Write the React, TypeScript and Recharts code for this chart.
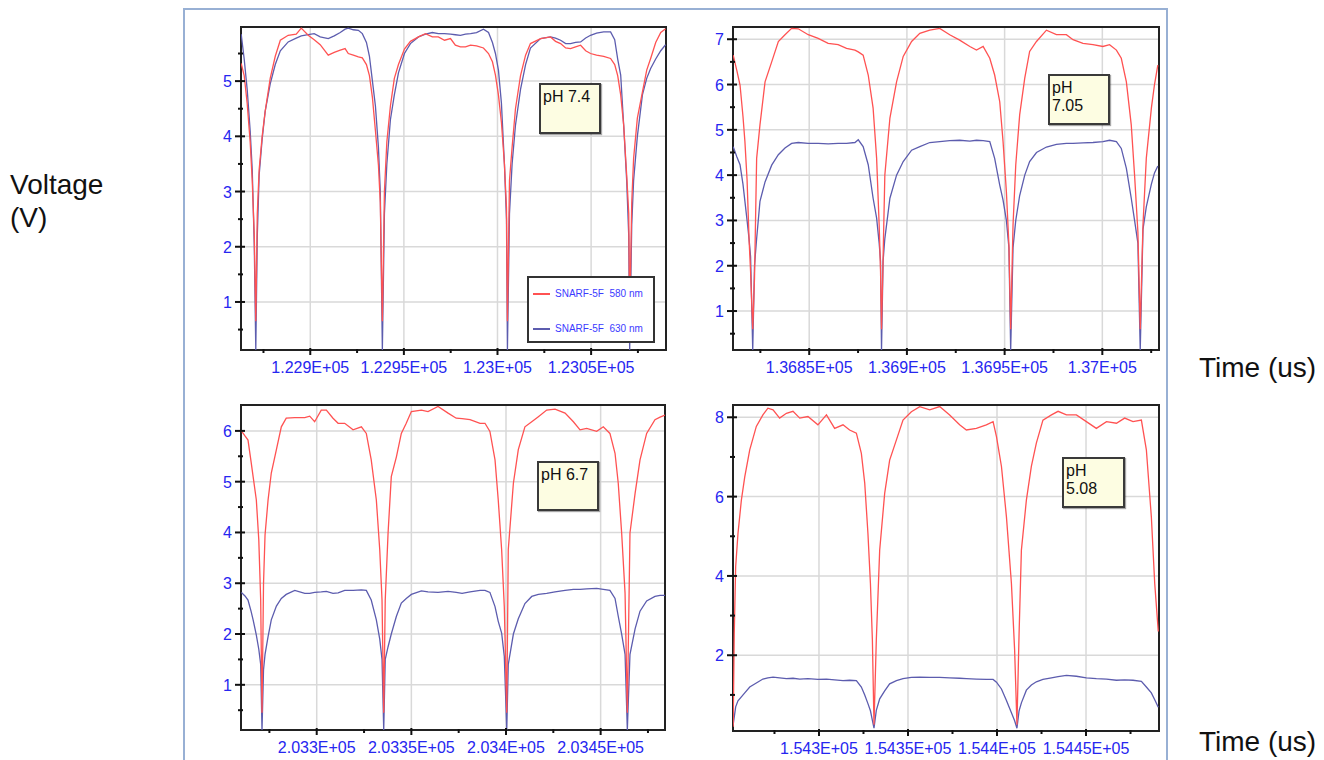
import { CartesianGrid, Legend, Line, LineChart, ReferenceArea, XAxis, YAxis } from "recharts";

const FONT = '"Liberation Sans", Arial, sans-serif';
const RED = "#ff5252";
const BLUE = "#5c5cae";
const TICK_BLUE = "#2626f0";

const seriesNames = ["SNARF-5F 580 nm", "SNARF-5F 630 nm"];

// pH 7.4
const p1Time = [122863.1, 122864.7, 122866.3, 122867.9, 122869.0, 122870.1, 122870.9, 122871.7, 122872.7, 122874.3, 122875.9, 122878.6, 122881.3, 122884.0, 122888.2, 122892.5, 122895.2, 122898.9, 122902.1, 122905.3, 122909.6, 122912.8, 122916.0, 122918.6, 122920.3, 122923.0, 122925.7, 122927.8, 122930.0, 122931.6, 122933.2, 122934.8, 122936.4, 122937.4, 122938.5, 122939.6, 122940.9, 122942.8, 122944.9, 122947.1, 122950.3, 122953.5, 122957.8, 122961.5, 122965.2, 122968.4, 122971.7, 122974.9, 122977.5, 122980.2, 122982.9, 122985.6, 122988.8, 122992.5, 122995.2, 122997.3, 122998.9, 123000.5, 123002.1, 123003.7, 123004.8, 123005.3, 123006.4, 123007.8, 123009.6, 123012.3, 123015.0, 123017.6, 123023.0, 123028.3, 123031.0, 123033.7, 123036.4, 123039.0, 123041.7, 123044.4, 123047.1, 123049.7, 123052.9, 123056.7, 123060.4, 123062.6, 123064.2, 123065.8, 123067.4, 123069.0, 123070.1, 123070.6, 123071.7, 123072.7, 123074.7, 123077.4, 123079.7, 123081.8, 123084.5, 123087.2, 123089.8];
const p1Red = [5.32, 5.1, 4.6, 3.9, 3.2, 2.2, 0.65, 2.6, 3.4, 4.0, 4.45, 5.05, 5.45, 5.74, 5.83, 5.85, 5.96, 5.83, 5.75, 5.66, 5.47, 5.52, 5.56, 5.59, 5.5, 5.47, 5.44, 5.42, 5.3, 5.1, 4.7, 4.1, 3.48, 2.8, 0.65, 3.0, 3.9, 4.55, 5.05, 5.3, 5.58, 5.72, 5.8, 5.86, 5.8, 5.8, 5.74, 5.77, 5.65, 5.62, 5.62, 5.65, 5.64, 5.6, 5.5, 5.35, 5.11, 4.75, 4.25, 3.5, 2.7, 0.65, 3.2, 3.8, 4.5, 5.1, 5.47, 5.68, 5.77, 5.8, 5.72, 5.68, 5.6, 5.59, 5.62, 5.65, 5.55, 5.5, 5.47, 5.45, 5.41, 5.3, 5.1, 4.75, 4.2, 3.3, 2.6, 0.65, 2.8, 3.6, 4.33, 4.8, 5.2, 5.41, 5.7, 5.88, 5.95];
const p1Blue = [5.85, 5.4, 4.85, 4.1, 3.4, 2.0, 0.13, 2.2, 3.3, 3.95, 4.45, 4.95, 5.3, 5.55, 5.71, 5.78, 5.82, 5.84, 5.86, 5.8, 5.77, 5.82, 5.88, 5.94, 5.96, 5.93, 5.92, 5.86, 5.7, 5.45, 5.0, 4.55, 3.8, 3.0, 0.13, 2.6, 3.5, 4.3, 4.75, 5.15, 5.5, 5.68, 5.8, 5.85, 5.88, 5.86, 5.86, 5.85, 5.84, 5.83, 5.85, 5.86, 5.88, 5.94, 5.88, 5.7, 5.5, 5.2, 4.6, 3.5, 2.5, 0.13, 2.6, 3.5, 4.2, 4.85, 5.3, 5.6, 5.77, 5.8, 5.78, 5.74, 5.68, 5.68, 5.7, 5.71, 5.78, 5.83, 5.87, 5.89, 5.89, 5.75, 5.4, 5.11, 4.2, 3.2, 2.2, 0.13, 2.4, 3.2, 4.0, 4.75, 5.05, 5.23, 5.4, 5.55, 5.66];

// pH 7.05
const p2Time = [136811.1, 136813.0, 136814.6, 136816.1, 136817.1, 136818.2, 136819.2, 136820.0, 136821.1, 136822.0, 136823.1, 136824.8, 136827.4, 136830.8, 136834.2, 136837.6, 136841.0, 136844.4, 136849.5, 136854.6, 136859.7, 136864.8, 136869.1, 136873.4, 136875.1, 136877.6, 136880.2, 136882.7, 136884.5, 136885.8, 136886.5, 136887.0, 136887.8, 136888.7, 136891.3, 136894.7, 136898.1, 136902.4, 136906.6, 136911.7, 136916.8, 136921.9, 136927.0, 136932.2, 136935.6, 136939.0, 136942.4, 136944.9, 136947.5, 136949.2, 136950.9, 136952.2, 136953.1, 136954.3, 136955.7, 136957.7, 136960.3, 136962.8, 136966.3, 136971.4, 136976.5, 136981.6, 136985.0, 136990.1, 136995.2, 137000.3, 137003.7, 137007.2, 137009.7, 137012.3, 137014.8, 137016.5, 137018.2, 137019.4, 137020.8, 137022.5, 137025.1, 137026.7, 137028.4];
const p2Red = [6.65, 6.3, 5.99, 5.3, 4.74, 3.9, 2.6, 1.87, 0.6, 1.72, 4.37, 5.11, 6.06, 6.5, 6.95, 7.1, 7.24, 7.23, 7.1, 7.02, 6.91, 6.88, 6.8, 6.76, 6.72, 6.65, 6.21, 5.48, 4.37, 2.9, 1.87, 0.6, 2.16, 4.0, 5.26, 6.06, 6.62, 6.95, 7.13, 7.2, 7.24, 7.1, 6.98, 6.84, 6.76, 6.84, 6.58, 6.21, 5.62, 4.74, 3.64, 2.46, 0.6, 2.9, 4.23, 5.33, 6.14, 6.73, 6.95, 7.2, 7.1, 7.1, 6.99, 6.91, 6.88, 6.84, 6.88, 6.76, 6.58, 6.06, 5.11, 4.0, 2.75, 0.6, 2.9, 4.37, 5.48, 6.0, 6.43];
const p2Blue = [4.63, 4.4, 4.23, 3.8, 3.42, 3.0, 2.6, 2.2, 0.14, 2.0, 2.6, 3.42, 3.85, 4.22, 4.45, 4.6, 4.7, 4.72, 4.7, 4.7, 4.69, 4.7, 4.7, 4.72, 4.78, 4.63, 4.23, 3.49, 3.05, 2.5, 2.1, 0.14, 2.1, 2.6, 3.49, 4.0, 4.3, 4.55, 4.63, 4.72, 4.74, 4.76, 4.77, 4.75, 4.77, 4.76, 4.74, 4.37, 3.78, 3.45, 3.0, 2.4, 0.14, 2.4, 3.0, 3.55, 4.0, 4.3, 4.5, 4.62, 4.68, 4.7, 4.7, 4.71, 4.72, 4.74, 4.77, 4.74, 4.59, 4.15, 3.49, 3.0, 2.5, 0.14, 2.8, 3.3, 3.8, 4.05, 4.2];

// pH 6.7
const p3Time = [203260.2, 203262.1, 203263.7, 203265.3, 203266.4, 203268.1, 203269.4, 203270.4, 203271.1, 203271.9, 203272.7, 203274.3, 203276.0, 203278.7, 203281.3, 203283.9, 203288.4, 203293.7, 203296.3, 203298.9, 203302.4, 203305.1, 203308.6, 203311.3, 203314.8, 203319.2, 203323.6, 203326.2, 203328.8, 203331.5, 203333.3, 203334.5, 203335.4, 203336.2, 203337.7, 203339.4, 203342.1, 203344.7, 203347.3, 203350.0, 203355.3, 203358.8, 203364.1, 203369.4, 203373.7, 203376.8, 203381.0, 203386.3, 203388.9, 203391.5, 203394.2, 203395.9, 203397.7, 203399.1, 203400.4, 203401.2, 203403.9, 203406.5, 203410.0, 203413.6, 203417.1, 203421.5, 203425.9, 203431.2, 203435.6, 203439.1, 203442.6, 203447.9, 203451.4, 203454.9, 203457.6, 203459.3, 203461.1, 203462.9, 203464.1, 203465.5, 203468.2, 203470.8, 203474.3, 203478.7, 203481.4, 203484.0];
const p3Red = [6.0, 5.9, 5.82, 5.4, 5.1, 4.64, 3.85, 2.67, 0.45, 3.0, 3.95, 4.64, 5.17, 5.63, 6.08, 6.25, 6.26, 6.26, 6.29, 6.18, 6.41, 6.41, 6.25, 6.15, 6.15, 6.02, 6.08, 5.95, 5.43, 4.64, 3.66, 2.67, 0.45, 2.67, 3.99, 5.1, 5.49, 5.95, 6.15, 6.38, 6.41, 6.38, 6.48, 6.35, 6.25, 6.24, 6.22, 6.15, 6.15, 5.99, 5.43, 4.64, 3.66, 2.54, 0.45, 3.66, 4.97, 5.63, 6.08, 6.18, 6.28, 6.41, 6.43, 6.35, 6.18, 6.02, 6.05, 5.99, 6.08, 5.95, 5.56, 4.97, 3.99, 2.8, 0.45, 3.99, 4.77, 5.43, 5.95, 6.22, 6.27, 6.31];
const p3Blue = [2.82, 2.75, 2.67, 2.45, 2.28, 1.98, 1.7, 1.4, 0.11, 1.3, 1.6, 1.95, 2.28, 2.55, 2.7, 2.78, 2.86, 2.8, 2.8, 2.82, 2.83, 2.84, 2.8, 2.81, 2.86, 2.86, 2.87, 2.86, 2.67, 2.28, 1.9, 1.5, 0.11, 1.5, 1.75, 2.0, 2.35, 2.61, 2.7, 2.78, 2.85, 2.83, 2.82, 2.84, 2.82, 2.8, 2.83, 2.86, 2.86, 2.82, 2.54, 2.25, 2.02, 1.56, 0.11, 1.4, 2.0, 2.3, 2.6, 2.74, 2.78, 2.8, 2.83, 2.86, 2.88, 2.88, 2.89, 2.9, 2.88, 2.86, 2.7, 2.35, 2.0, 1.6, 0.11, 1.6, 2.1, 2.45, 2.65, 2.74, 2.76, 2.76];

// pH 5.08
const p4Time = [154251.8, 154252.4, 154253.2, 154254.5, 154256.4, 154258.3, 154261.1, 154264.8, 154268.5, 154271.3, 154274.2, 154277.9, 154281.7, 154285.4, 154289.2, 154293.8, 154299.4, 154304.2, 154308.8, 154313.5, 154317.2, 154321.0, 154323.8, 154325.7, 154327.5, 154328.9, 154330.0, 154330.9, 154332.2, 154334.1, 154336.9, 154339.7, 154343.5, 154347.2, 154351.9, 154356.6, 154362.2, 154367.8, 154373.4, 154379.0, 154382.8, 154388.4, 154394.0, 154397.8, 154399.7, 154402.5, 154405.3, 154408.1, 154409.9, 154411.2, 154412.4, 154413.7, 154416.5, 154419.3, 154422.1, 154425.8, 154430.6, 154434.3, 154439.0, 154444.6, 154450.2, 154455.8, 154461.5, 154467.1, 154471.7, 154476.4, 154481.1, 154483.9, 154486.7, 154488.6, 154490.6];
const p4Red = [0.2, 2.55, 4.23, 5.07, 5.91, 6.5, 7.18, 7.77, 8.06, 8.23, 8.19, 7.98, 8.1, 8.15, 7.98, 8.02, 7.81, 8.06, 7.72, 7.81, 7.68, 7.6, 7.09, 6.34, 5.07, 3.81, 2.38, 0.25, 2.38, 4.65, 6.08, 6.92, 7.43, 7.93, 8.14, 8.27, 8.19, 8.27, 8.06, 7.81, 7.68, 7.72, 7.81, 7.89, 7.51, 6.76, 5.49, 3.81, 2.13, 0.25, 2.55, 4.65, 5.91, 6.76, 7.35, 7.93, 8.06, 8.15, 8.06, 8.06, 7.89, 7.72, 7.89, 7.85, 7.98, 7.89, 7.93, 7.18, 5.49, 3.81, 2.6];
const p4Blue = [0.25, 0.44, 0.7, 0.85, 0.95, 1.05, 1.2, 1.3, 1.4, 1.43, 1.45, 1.43, 1.41, 1.42, 1.4, 1.41, 1.39, 1.4, 1.38, 1.36, 1.37, 1.36, 1.2, 1.0, 0.78, 0.6, 0.36, 0.16, 0.61, 0.9, 1.1, 1.28, 1.36, 1.41, 1.44, 1.45, 1.44, 1.44, 1.43, 1.42, 1.41, 1.4, 1.39, 1.39, 1.32, 1.15, 0.86, 0.55, 0.35, 0.16, 0.6, 0.8, 1.12, 1.25, 1.33, 1.39, 1.43, 1.46, 1.49, 1.47, 1.43, 1.41, 1.4, 1.37, 1.38, 1.37, 1.34, 1.2, 1.05, 0.88, 0.69];

// axis ticks
const p1XMajor = [122900, 122950, 123000, 123050];
const p1XMinor = [122875, 122925, 122975, 123025, 123075];
const p1YMajor = [1, 2, 3, 4, 5];
const p1YMinor = [0.5, 1.5, 2.5, 3.5, 4.5, 5.5];

const p2XMajor = [136850, 136900, 136950, 137000];
const p2XMinor = [136825, 136875, 136925, 136975, 137025];
const p2YMajor = [1, 2, 3, 4, 5, 6, 7];
const p2YMinor = [0.5, 1.5, 2.5, 3.5, 4.5, 5.5, 6.5];

const p3XMajor = [203300, 203350, 203400, 203450];
const p3XMinor = [203275, 203325, 203375, 203425, 203475];
const p3YMajor = [1, 2, 3, 4, 5, 6];
const p3YMinor = [0.5, 1.5, 2.5, 3.5, 4.5, 5.5];

const p4XMajor = [154300, 154350, 154400, 154450];
const p4XMinor = [154275, 154325, 154375, 154425, 154475];
const p4YMajor = [2, 4, 6, 8];
const p4YMinor = [1, 3, 5, 7];

const AXW = 45;
const AXH = 30;
const PAD = 6;

function sci(v: number) {
  const [m, e] = v.toExponential().split("e");
  return `${m}E${e[0]}${e.slice(1).padStart(2, "0")}`;
}

const makeXTick = (majors: number[]) => (props: any) => {
  const { x, y, payload } = props;
  const major = majors.includes(payload.value);
  return (
    <g>
      <line x1={x} x2={x} y1={y - (major ? 2 : 1)} y2={y + (major ? 5 : 3)} stroke="#111" strokeWidth={2} />
      {major && (
        <text x={x} y={y + 23} textAnchor="middle" fill={TICK_BLUE} fontSize={16} fontFamily={FONT}>
          {sci(payload.value)}
        </text>
      )}
    </g>
  );
};

const makeYTick = (majors: number[]) => (props: any) => {
  const { x, y, payload } = props;
  const major = majors.includes(payload.value);
  return (
    <g>
      <line x1={x - (major ? 6 : 3)} x2={x + (major ? 4 : 2)} y1={y} y2={y} stroke="#111" strokeWidth={2} />
      {major && (
        <text x={x - 9} y={y + 6} textAnchor="end" fill={TICK_BLUE} fontSize={16} fontFamily={FONT}>
          {payload.value}
        </text>
      )}
    </g>
  );
};

type Box = { left: number; top: number; width: number; height: number };

function LegendBox() {
  const colors = [RED, BLUE];
  return (
    <div
      style={{
        position: "relative",
        width: 124,
        height: 63,
        border: "2px solid #333",
        background: "#fff",
        fontFamily: FONT,
      }}
    >
      {seriesNames.map((name, i) => (
        <div key={name} style={{ position: "absolute", left: 4, top: i === 0 ? 10 : 45, display: "flex", alignItems: "center" }}>
          <div style={{ width: 17, height: i === 0 ? 1.3 : 2, background: colors[i] }} />
          <span style={{ marginLeft: 5, fontSize: 10, color: "#3b3bff", lineHeight: "12px", whiteSpace: "pre" }}>
            {name.replace(" ", "  ")}
          </span>
        </div>
      ))}
    </div>
  );
}

function Panel({
  plot,
  time,
  red,
  blue,
  xDomain,
  yDomain,
  xMajor,
  xMinor,
  yMajor,
  yMinor,
  legendAt,
}: {
  plot: Box;
  time: number[];
  red: number[];
  blue: number[];
  xDomain: [number, number];
  yDomain: [number, number];
  xMajor: number[];
  xMinor: number[];
  yMajor: number[];
  yMinor: number[];
  legendAt?: { left: number; top: number };
}) {
  const rows = time.map((t, i) => ({ t, red: red[i], blue: blue[i] }));
  const left = plot.left - AXW;
  const top = plot.top - PAD;
  return (
    <div style={{ position: "absolute", left, top }}>
      <LineChart
        width={plot.width + AXW + PAD}
        height={plot.height + PAD + AXH}
        data={rows}
        margin={{ top: PAD, right: PAD, left: 0, bottom: 0 }}
      >
        <CartesianGrid stroke="#d9d9d9" strokeWidth={1.5} horizontalValues={yMajor} verticalValues={xMajor} />
        <XAxis
          dataKey="t"
          type="number"
          domain={xDomain}
          allowDataOverflow
          ticks={[...xMajor, ...xMinor].sort((a, b) => a - b)}
          interval={0}
          tickSize={0}
          tickMargin={0}
          tickLine={false}
          axisLine={false}
          height={AXH}
          tick={makeXTick(xMajor)}
        />
        <YAxis
          type="number"
          domain={yDomain}
          allowDataOverflow
          ticks={[...yMajor, ...yMinor].sort((a, b) => a - b)}
          interval={0}
          tickSize={0}
          tickMargin={0}
          tickLine={false}
          axisLine={false}
          width={AXW}
          tick={makeYTick(yMajor)}
        />
        <ReferenceArea
          x1={xDomain[0]}
          x2={xDomain[1]}
          y1={yDomain[0]}
          y2={yDomain[1]}
          fill="none"
          fillOpacity={0}
          stroke="#222"
          strokeWidth={2}
        />
        <Line type="linear" dataKey="blue" name={seriesNames[1]} stroke={BLUE} strokeWidth={1.3} dot={false} activeDot={false} isAnimationActive={false} />
        <Line type="linear" dataKey="red" name={seriesNames[0]} stroke={RED} strokeWidth={1.3} dot={false} activeDot={false} isAnimationActive={false} />
        {legendAt && (
          <Legend
            layout="vertical"
            align="center"
            verticalAlign="middle"
            wrapperStyle={{ left: legendAt.left - left, top: legendAt.top - top, width: 128, height: 67 }}
            content={() => <LegendBox />}
          />
        )}
      </LineChart>
    </div>
  );
}

function Note({ box, lines }: { box: Box; lines: string[] }) {
  return (
    <div
      style={{
        position: "absolute",
        left: box.left,
        top: box.top,
        width: box.width - 4,
        height: box.height - 4,
        border: "2px solid #3a3a3a",
        background: "#fdfde2",
        boxShadow: "1px 1px 1px rgba(0,0,0,0.35)",
        fontFamily: FONT,
        fontSize: 16,
        lineHeight: "18px",
        color: "#111",
        padding: "3px 0 0 2px",
        boxSizing: "content-box",
      }}
    >
      {lines.map((l) => (
        <div key={l}>{l}</div>
      ))}
    </div>
  );
}

export default function App() {
  return (
    <div style={{ position: "absolute", left: 0, top: 0, width: 1324, height: 760, background: "#fff", overflow: "hidden", fontFamily: FONT }}>
      <div style={{ position: "absolute", left: 183, top: 8, width: 981, height: 800, border: "2px solid #98b0d4" }} />

      <div style={{ position: "absolute", left: 10, top: 168, fontSize: 28, lineHeight: "33px", color: "#111" }}>
        <div>Voltage</div>
        <div>(V)</div>
      </div>
      <div style={{ position: "absolute", left: 1199, top: 351, fontSize: 28, lineHeight: "33px", color: "#111" }}>Time (us)</div>
      <div style={{ position: "absolute", left: 1199, top: 725, fontSize: 28, lineHeight: "33px", color: "#111" }}>Time (us)</div>

      <Panel
        plot={{ left: 241, top: 27, width: 425, height: 323 }}
        time={p1Time}
        red={p1Red}
        blue={p1Blue}
        xDomain={[122863, 123090]}
        yDomain={[0.13, 5.98]}
        xMajor={p1XMajor}
        xMinor={p1XMinor}
        yMajor={p1YMajor}
        yMinor={p1YMinor}
        legendAt={{ left: 527, top: 276 }}
      />
      <Panel
        plot={{ left: 733, top: 27, width: 426, height: 323 }}
        time={p2Time}
        red={p2Red}
        blue={p2Blue}
        xDomain={[136811, 137029]}
        yDomain={[0.14, 7.27]}
        xMajor={p2XMajor}
        xMinor={p2XMinor}
        yMajor={p2YMajor}
        yMinor={p2YMinor}
      />
      <Panel
        plot={{ left: 241, top: 405, width: 424, height: 325 }}
        time={p3Time}
        red={p3Red}
        blue={p3Blue}
        xDomain={[203260, 203484]}
        yDomain={[0.11, 6.51]}
        xMajor={p3XMajor}
        xMinor={p3XMinor}
        yMajor={p3YMajor}
        yMinor={p3YMinor}
      />
      <Panel
        plot={{ left: 733, top: 405, width: 426, height: 326 }}
        time={p4Time}
        red={p4Red}
        blue={p4Blue}
        xDomain={[154251.7, 154491]}
        yDomain={[0.09, 8.31]}
        xMajor={p4XMajor}
        xMinor={p4XMinor}
        yMajor={p4YMajor}
        yMinor={p4YMinor}
      />

      <Note box={{ left: 539, top: 83, width: 60, height: 48 }} lines={["pH 7.4"]} />
      <Note box={{ left: 1048, top: 74, width: 60, height: 48 }} lines={["pH", "7.05"]} />
      <Note box={{ left: 537, top: 461, width: 60, height: 47 }} lines={["pH 6.7"]} />
      <Note box={{ left: 1062, top: 457, width: 61, height: 48 }} lines={["pH", "5.08"]} />
    </div>
  );
}
